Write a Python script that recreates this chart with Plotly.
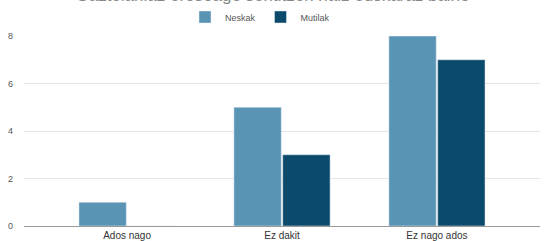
import plotly.graph_objects as go

categories = ["Ados nago", "Ez dakit", "Ez nago ados"]
neskak = [1, 5, 8]
mutilak = [0, 3, 7]
series_names = ["Neskak", "Mutilak"]
y_ticks = [0, 2, 4, 6, 8]
title_text = "Gaztelaniaz erosoago sentitzen naiz euskaraz baino"

fig = go.Figure()
fig.add_trace(go.Bar(x=categories, y=neskak, name=series_names[0], marker_color="#5a94b4"))
fig.add_trace(go.Bar(x=categories, y=mutilak, name=series_names[1], marker_color="#0c4a6c"))

fig.update_layout(
    width=545, height=241,
    margin=dict(l=24, r=5, t=36, b=15, autoexpand=False),
    paper_bgcolor="white", plot_bgcolor="white",
    barmode="group", bargap=0.37, bargroupgap=0.03,
    font=dict(family="Arial, Liberation Sans, sans-serif", color="#444"),
    title=dict(text=title_text, x=0.5, xanchor="center", xref="container",
               y=1 - 1 / 241, yref="container", yanchor="bottom",
               font=dict(size=17, color="#888")),
    legend=dict(orientation="h", x=260 / 545, xanchor="center", xref="container",
                y=1 - 17 / 241, yref="container", yanchor="middle",
                font=dict(size=9, color="#555"), itemwidth=30,
                bgcolor="rgba(0,0,0,0)"),
    showlegend=True,
)
fig.update_xaxes(range=[-0.665, 2.665], showgrid=False, showline=True,
                 linecolor="#9a9a9a", linewidth=1, ticks="",
                 tickfont=dict(size=10, color="#333"), automargin=False)
fig.update_yaxes(range=[0, 8], tickvals=y_ticks, showgrid=True, gridcolor="#e6e6e6",
                 zeroline=False, showline=False, ticks="", ticklabelstandoff=10,
                 tickfont=dict(size=9, color="#555"), automargin=False)

fig.write_html("out.html", config={"displayModeBar": False},
               post_script="document.body.style.margin='0';document.body.style.overflow='hidden';")
